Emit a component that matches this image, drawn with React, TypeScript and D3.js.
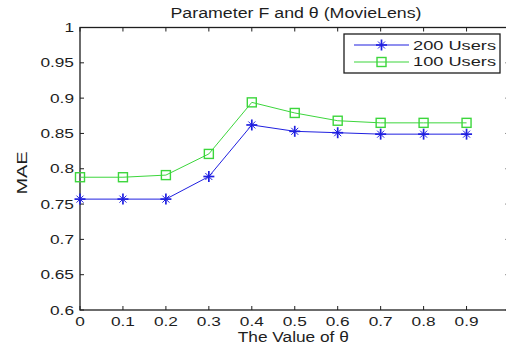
import React from "react";
import * as d3 from "d3";

const thetas = [0, 0.1, 0.2, 0.3, 0.4, 0.5, 0.6, 0.7, 0.8, 0.9];
const users200 = [0.757, 0.757, 0.757, 0.789, 0.862, 0.853, 0.851, 0.849, 0.849, 0.849];
const users100 = [0.788, 0.788, 0.791, 0.821, 0.894, 0.879, 0.868, 0.865, 0.865, 0.865];
const yTicks = [0.6, 0.65, 0.7, 0.75, 0.8, 0.85, 0.9, 0.95, 1];
const xTicks = [0, 0.1, 0.2, 0.3, 0.4, 0.5, 0.6, 0.7, 0.8, 0.9];
const seriesNames = ["200 Users", "100 Users"];

const W = 506, H = 352;
const FONT = "'Liberation Sans', Arial, sans-serif";
const INK = "#1e1e1e";

// approximate wide-font width for numeric tick labels
const numLen = (s: string) =>
  s.split("").reduce((a, c) => a + (c === "." ? 4.8 : 9.6), 0);

export default function App() {
  const x = d3.scaleLinear().domain([0, 1]).range([80, 509.5]);
  const y = d3.scaleLinear().domain([0.6, 1]).range([310, 27.5]);
  const line = d3.line<[number, number]>().x(d => x(d[0])).y(d => y(d[1]));
  const d200 = thetas.map((t, i) => [t, users200[i]] as [number, number]);
  const d100 = thetas.map((t, i) => [t, users100[i]] as [number, number]);
  const blue = "#2020e0";
  const green = "#3cd63c";

  const star = (cx: number, cy: number, k: string) => {
    const r = 5.5, q = 3.5;
    return (
      <g key={k} stroke={blue} strokeWidth={1.7}>
        <line x1={cx - r} y1={cy} x2={cx + r} y2={cy} />
        <line x1={cx} y1={cy - r} x2={cx} y2={cy + r} />
        <line x1={cx - q} y1={cy - q} x2={cx + q} y2={cy + q} strokeWidth={1} />
        <line x1={cx - q} y1={cy + q} x2={cx + q} y2={cy - q} strokeWidth={1} />
      </g>
    );
  };
  const square = (cx: number, cy: number, k: string) => (
    <rect key={k} x={cx - 4.5} y={cy - 4.5} width={9} height={9} fill="none" stroke={green} strokeWidth={1.4} />
  );

  const fmt = (t: number) => String(t);

  return (
    <svg width={W} height={H} style={{ position: "absolute", left: 0, top: 0, background: "#fff" }} fontFamily={FONT}>
      <rect x={0} y={0} width={W} height={H} fill="#fff" />
      <text x={296} y={17.5} textAnchor="middle" fontSize={14} fill={INK} textLength={251} lengthAdjust="spacingAndGlyphs">
        Parameter F and θ (MovieLens)
      </text>
      {/* axes box */}
      <rect x={x(0)} y={y(1)} width={x(1) - x(0)} height={y(0.6) - y(1)} fill="none" stroke={INK} strokeWidth={1.3} />
      {yTicks.map(t => (
        <g key={"y" + t}>
          <line x1={x(0)} x2={x(0) + 4} y1={y(t)} y2={y(t)} stroke={INK} />
          <line x1={x(1) - 4} x2={x(1)} y1={y(t)} y2={y(t)} stroke={INK} />
          <text x={x(0) - 6} y={y(t) + 4.5} textAnchor="end" fontSize={12.5} fill={INK}
            textLength={numLen(fmt(t))} lengthAdjust="spacingAndGlyphs">{fmt(t)}</text>
        </g>
      ))}
      {xTicks.map(t => (
        <g key={"x" + t}>
          <line x1={x(t)} x2={x(t)} y1={y(0.6)} y2={y(0.6) - 4} stroke={INK} />
          <line x1={x(t)} x2={x(t)} y1={y(1)} y2={y(1) + 4} stroke={INK} />
          <text x={x(t)} y={325.5} textAnchor="middle" fontSize={12.5} fill={INK}
            textLength={numLen(fmt(t))} lengthAdjust="spacingAndGlyphs">{fmt(t)}</text>
        </g>
      ))}
      <text x={293.3} y={342} textAnchor="middle" fontSize={14} fill={INK} textLength={111} lengthAdjust="spacingAndGlyphs">
        The Value of θ
      </text>
      <text transform={`translate(26.5,173) rotate(-90)`} textAnchor="middle" fontSize={14} fill={INK}
        textLength={43} lengthAdjust="spacingAndGlyphs">MAE</text>
      {/* lines */}
      <path d={line(d100) || ""} fill="none" stroke={green} strokeWidth={1} />
      <path d={line(d200) || ""} fill="none" stroke={blue} strokeWidth={1} />
      {d100.map((p, i) => square(x(p[0]), y(p[1]), "s" + i))}
      {d200.map((p, i) => star(x(p[0]), y(p[1]), "p" + i))}
      {/* legend */}
      <rect x={344} y={34} width={156} height={39} fill="#fff" stroke={INK} strokeWidth={1.3} />
      <line x1={354} x2={409} y1={45} y2={45} stroke={blue} strokeWidth={1.2} />
      {star(381.5, 45, "ls")}
      <text x={413} y={49.5} fontSize={12.5} fill={INK} textLength={83} lengthAdjust="spacingAndGlyphs">{seriesNames[0]}</text>
      <line x1={354} x2={409} y1={62} y2={62} stroke={green} strokeWidth={1.2} />
      {square(381.5, 62, "lq")}
      <text x={413} y={66} fontSize={12.5} fill={INK} textLength={83} lengthAdjust="spacingAndGlyphs">{seriesNames[1]}</text>
    </svg>
  );
}
